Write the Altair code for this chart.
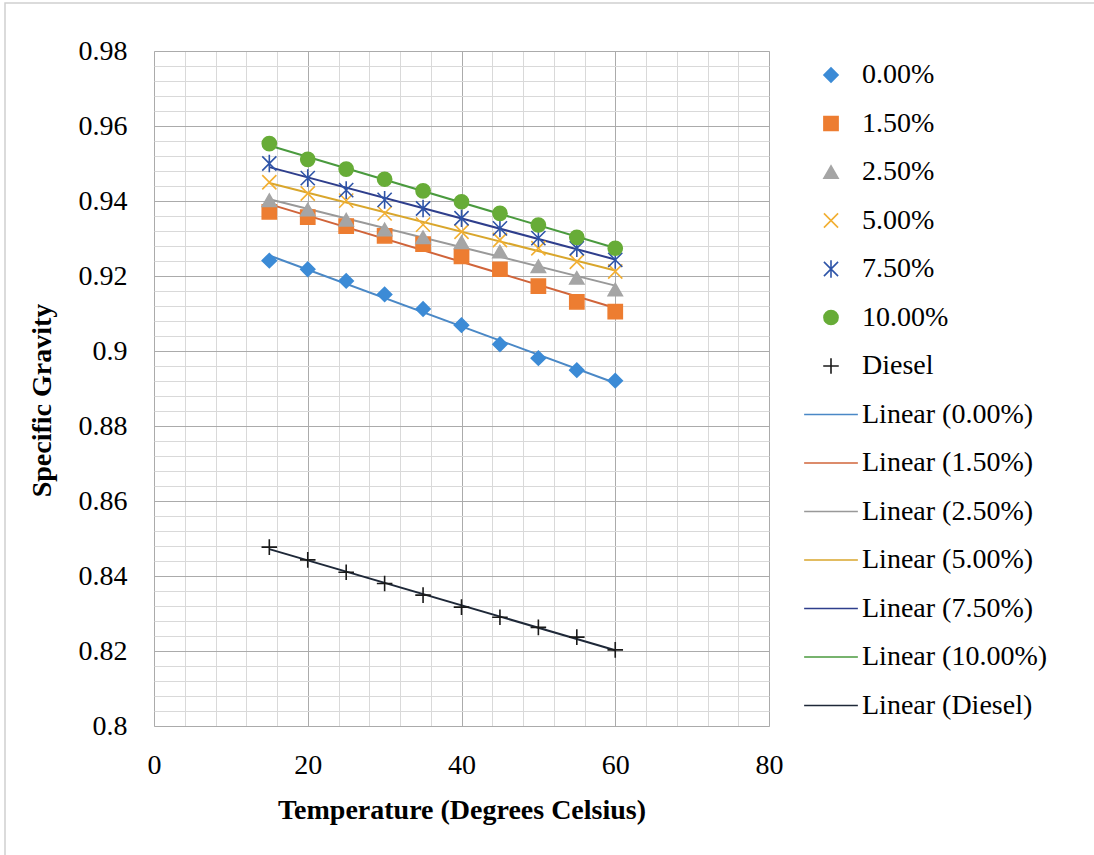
import altair as alt
import pandas as pd

# ---- data ----
temps = [15, 20, 25, 30, 35, 40, 45, 50, 55, 60]
series_names = ["0.00%", "1.50%", "2.50%", "5.00%", "7.50%", "10.00%", "Diesel"]
sg_000 = [0.9241, 0.9218, 0.9187, 0.9151, 0.9112, 0.9069, 0.9018, 0.8981, 0.8949, 0.8921]
sg_150 = [0.9371, 0.9357, 0.9333, 0.9307, 0.9285, 0.9252, 0.9218, 0.9173, 0.9131, 0.9105]
sg_250 = [0.9402, 0.9377, 0.9350, 0.9324, 0.9303, 0.9290, 0.9265, 0.9226, 0.9195, 0.9164]
sg_500 = [0.9450, 0.9420, 0.9401, 0.9367, 0.9337, 0.9318, 0.9296, 0.9274, 0.9238, 0.9212]
sg_750 = [0.9500, 0.9461, 0.9429, 0.9403, 0.9380, 0.9354, 0.9327, 0.9301, 0.9274, 0.9243]
sg_1000 = [0.9553, 0.9511, 0.9485, 0.9458, 0.9427, 0.9398, 0.9367, 0.9336, 0.9303, 0.9274]
sg_diesel = [0.8477, 0.8443, 0.8410, 0.8380, 0.8349, 0.8317, 0.8290, 0.8263, 0.8237, 0.8203]
all_values = [sg_000, sg_150, sg_250, sg_500, sg_750, sg_1000, sg_diesel]

trend_names = ["Linear (" + s + ")" for s in series_names]
legend_domain = series_names + trend_names

marker_colors = ["#3C8BD6", "#ED7D31", "#A5A5A5", "#F2AF32", "#2E54A8", "#67AC37", "#1A1A1A"]
trend_colors = ["#4A88C6", "#D0643A", "#999999", "#D9A62C", "#2E3E8C", "#4A9A3E", "#1E2838"]
color_range = marker_colors + trend_colors

LINE = "M-3.8,0H3.8"
shape_range = [
    "diamond",
    "square",
    "triangle-up",
    "M-1,-1L1,1M-1,1L1,-1",
    "M-1,-1L1,1M-1,1L1,-1M0,-1.25V1.25",
    "circle",
    "M-1.1,0H1.1M0,-1.1V1.1",
] + [LINE] * 7

rows = []
for name, vals in zip(series_names, all_values):
    for t, v in zip(temps, vals):
        rows.append({"temp": t, "sg": v, "series": name, "label": name})
df = pd.DataFrame(rows)

FONT = "Liberation Serif"
FS = 28
x_values = list(range(0, 81, 4))
y_values = [round(0.8 + i * 0.004, 3) for i in range(46)]

x_scale = alt.Scale(domain=[0, 80], nice=False, zero=False)
y_scale = alt.Scale(domain=[0.8, 0.98], nice=False, zero=False)

major = "#ABABAB"
minor = "#D9D9D9"

x_axis = alt.Axis(
    values=x_values,
    grid=True,
    gridColor=alt.ConditionalAxisColor(
        condition={"test": "round(datum.value) % 20 === 0", "value": major}, value=minor
    ),
    ticks=False,
    domain=False,
    labelExpr="round(datum.value) % 20 === 0 ? format(datum.value, 'd') : ''",
    labelOverlap=False,
    labelFlush=False,
    labelBound=False,
    labelFont=FONT,
    labelFontSize=FS,
    labelColor="#000000",
    labelPadding=25,
    title="Temperature (Degrees Celsius)",
    titleFont=FONT,
    titleFontSize=FS,
    titleFontWeight="bold",
    titleColor="#000000",
    titleX=307.5,
    titleY=84,
    titleBaseline="middle",
    titleAlign="center",
)
y_axis = alt.Axis(
    values=y_values,
    grid=True,
    gridColor=alt.ConditionalAxisColor(
        condition={"test": "round(datum.value * 1000) % 20 === 0", "value": major}, value=minor
    ),
    ticks=False,
    domain=False,
    labelExpr="round(datum.value * 1000) % 20 === 0 ? format(datum.value, '.2~f') : ''",
    labelOverlap=False,
    labelFlush=False,
    labelBound=False,
    labelFont=FONT,
    labelFontSize=FS,
    labelColor="#000000",
    labelPadding=27,
    title="Specific Gravity",
    titleFont=FONT,
    titleFontSize=FS,
    titleFontWeight="bold",
    titleColor="#000000",
    titleX=-112,
    titleY=349,
    titleBaseline="middle",
    titleAlign="center",
    titleAngle=-90,
)

legend = alt.Legend(
    title=None,
    orient="none",
    legendX=663,
    legendY=10,
    labelFont=FONT,
    labelFontSize=FS,
    labelColor="#000000",
    labelOffset=17,
    rowPadding=20.5,
    symbolStrokeWidth=1.6,
    symbolSize=200,
    padding=0,
    labelLimit=400,
)

color_scale = alt.Scale(domain=legend_domain, range=color_range)
shape_scale = alt.Scale(domain=legend_domain, range=shape_range)

base = alt.Chart(df)

frame = alt.Chart(pd.DataFrame({"k": [0]})).mark_rect(
    fill="transparent", stroke="#D0D0D0", strokeWidth=1.5
).encode(
    x=alt.value(-149), x2=alt.value(1100), y=alt.value(-48), y2=alt.value(900)
)

trend = base.transform_regression(
    "temp", "sg", groupby=["series"]
).transform_calculate(
    label="'Linear (' + datum.series + ')'"
).mark_line(strokeWidth=2).encode(
    x=alt.X("temp:Q", scale=x_scale, axis=x_axis),
    y=alt.Y("sg:Q", scale=y_scale, axis=y_axis),
    stroke=alt.Stroke("label:N", scale=color_scale, legend=legend),
    detail="series:N",
)

points = base.mark_point(size=200, strokeWidth=1.6, opacity=1, fillOpacity=1).encode(
    x=alt.X("temp:Q", scale=x_scale, axis=x_axis),
    y=alt.Y("sg:Q", scale=y_scale, axis=y_axis),
    fill=alt.Fill("label:N", scale=color_scale, legend=legend),
    stroke=alt.Stroke("label:N", scale=color_scale, legend=legend),
    shape=alt.Shape("label:N", scale=shape_scale, legend=legend),
)

chart = alt.layer(frame, trend, points).properties(
    width=615,
    height=675,
    autosize=alt.AutoSizeParams(type="none"),
    padding={"left": 154, "top": 51, "right": 325, "bottom": 129},
).configure_view(stroke=major, strokeWidth=1).configure(background="#FFFFFF")

chart.save("out.html", embed_options={"renderer": "svg", "actions": False})
